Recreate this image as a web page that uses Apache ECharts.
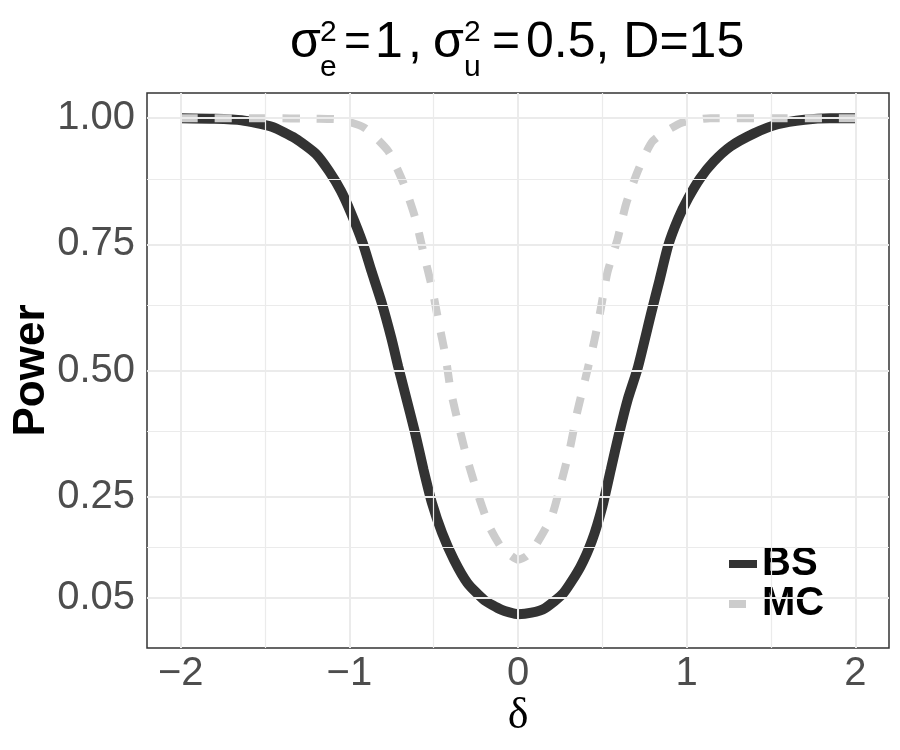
<!DOCTYPE html>
<html>
<head>
<meta charset="utf-8">
<script src="https://cdn.jsdelivr.net/npm/echarts@6/dist/echarts.min.js"></script>
<style>
  html, body { margin: 0; padding: 0; background: #fff; }
  #chart { width: 900px; height: 750px; }
</style>
</head>
<body>
<div id="chart"></div>
<script>
// values
var deltaBS = [-2.00, -1.80, -1.64, -1.46, -1.32, -1.20, -1.12, -1.05, -0.99, -0.92, -0.87, -0.81, -0.75, -0.71,
               -0.67, -0.61, -0.56, -0.51, -0.45, -0.38, -0.30, -0.20, -0.10, 0.00, 0.08, 0.16, 0.27, 0.37,
               0.44, 0.50, 0.55, 0.60, 0.65, 0.71, 0.79, 0.84, 0.89, 0.95, 1.01, 1.08, 1.16, 1.26, 1.40,
               1.54, 1.70, 1.85, 2.00];
var powerBS = [1.000, 0.999, 0.996, 0.983, 0.960, 0.930, 0.895, 0.856, 0.812, 0.752, 0.698, 0.636, 0.563, 0.507,
               0.455, 0.376, 0.303, 0.237, 0.178, 0.125, 0.079, 0.045, 0.026, 0.017, 0.020, 0.029, 0.059, 0.111,
               0.164, 0.230, 0.303, 0.376, 0.442, 0.505, 0.614, 0.680, 0.747, 0.801, 0.842, 0.881, 0.914, 0.944, 0.970,
               0.988, 0.997, 1.000, 1.000];

var deltaMC = [-2.00, -1.50, -1.20, -1.05, -0.91, -0.77, -0.68, -0.61, -0.56, -0.51, -0.47, -0.43, -0.40, -0.35,
               -0.30, -0.24, -0.17, -0.10, -0.05, 0.00, 0.05, 0.10, 0.20, 0.26, 0.31, 0.35, 0.40, 0.45, 0.49,
               0.53, 0.59, 0.64, 0.71, 0.80, 0.97, 1.14, 1.50, 2.00];
var powerMC = [1.000, 1.000, 0.999, 0.997, 0.981, 0.935, 0.872, 0.803, 0.733, 0.664, 0.595, 0.529, 0.462, 0.389,
               0.323, 0.257, 0.191, 0.150, 0.135, 0.125, 0.132, 0.151, 0.211, 0.283, 0.349, 0.416, 0.485, 0.555, 0.621,
               0.694, 0.760, 0.829, 0.895, 0.955, 0.991, 1.000, 1.000, 1.000];

var xTicks = [-2, -1, 0, 1, 2];
var xMinor = [-1.5, -0.5, 0.5, 1.5];
var yTicks = [0.05, 0.25, 0.50, 0.75, 1.00];
var yMinor = [0.15, 0.375, 0.625, 0.875];

var myChart = echarts.init(document.getElementById('chart'));

function pairs(xs, ys) {
    return xs.map(function (x, i) { return [x, ys[i]]; });
}

// background grid drawn as mark lines
var gridLines = [];
xTicks.forEach(function (v) { gridLines.push({ xAxis: v, lineStyle: { width: 2 } }); });
xMinor.forEach(function (v) { gridLines.push({ xAxis: v, lineStyle: { width: 1.2 } }); });
yTicks.forEach(function (v) { gridLines.push({ yAxis: v, lineStyle: { width: 2 } }); });
yMinor.forEach(function (v) { gridLines.push({ yAxis: v, lineStyle: { width: 1.2 } }); });

var base = 'Liberation Sans, Arial, sans-serif';

function titlePart(txt, x, y, size) {
    return { type: 'text', x: x, y: y, style: { text: txt, font: size + 'px ' + base, fill: '#000', verticalAlign: 'middle' } };
}

var option = {
    animation: false,
    backgroundColor: '#fff',
    textStyle: { fontFamily: base },
    grid: {
        left: 147, right: 11, top: 93, bottom: 102,
        containLabel: false,
        outerBoundsMode: 'none',
        show: true,
        backgroundColor: '#fff',
        borderColor: '#333',
        borderWidth: 1.5
    },
    graphic: [
        titlePart('σ', 290, 43, 50),
        titlePart('2', 320, 33, 30),
        titlePart('e', 320, 68, 30),
        titlePart('=', 344, 43, 46),
        titlePart('1', 375, 43, 50),
        titlePart(',', 408, 43, 50),
        titlePart('σ', 433, 43, 50),
        titlePart('2', 464, 33, 30),
        titlePart('u', 464, 68, 30),
        titlePart('=', 492, 43, 48),
        titlePart('0.5, D=15', 526, 43, 50)
    ],
    legend: {
        data: ['BS', 'MC'],
        orient: 'vertical',
        left: 709,
        top: 535,
        padding: [9, 11, 10, 16],
        backgroundColor: '#fff',
        itemGap: 0,
        itemWidth: 28,
        itemHeight: 14,
        itemStyle: { color: 'rgba(0,0,0,0)', borderWidth: 0 },
        lineStyle: { width: 8, cap: 'butt' },
        textStyle: { fontSize: 40, fontWeight: 'bold', color: '#000', lineHeight: 38, fontFamily: base }
    },
    xAxis: {
        type: 'value',
        min: -2.2,
        max: 2.2,
        name: 'δ',
        nameLocation: 'middle',
        nameGap: 46,
        nameMoveOverlap: false,
        nameTextStyle: { fontSize: 44, color: '#000', fontFamily: 'Liberation Serif, serif' },
        axisLine: { show: false },
        splitLine: { show: false },
        axisTick: { show: true, customValues: xTicks, length: 5, lineStyle: { color: '#333', width: 1.5 } },
        axisLabel: {
            customValues: xTicks,
            fontSize: 40,
            color: '#4d4d4d',
            margin: 6,
            formatter: function (v) { return v < 0 ? '\u2212' + Math.abs(v) : String(v); }
        }
    },
    yAxis: {
        type: 'value',
        min: -0.05,
        max: 1.05,
        name: 'Power',
        nameLocation: 'middle',
        nameGap: 93,
        nameMoveOverlap: false,
        nameTextStyle: { fontSize: 44, fontWeight: 'bold', color: '#000' },
        axisLine: { show: false },
        splitLine: { show: false },
        axisTick: { show: true, customValues: yTicks, length: 5, lineStyle: { color: '#333', width: 1.5 } },
        axisLabel: {
            customValues: yTicks,
            fontSize: 40,
            color: '#4d4d4d',
            margin: 12,
            formatter: function (v) { return v.toFixed(2); }
        }
    },
    series: [{
        name: 'grid',
        type: 'line',
        z: 1,
        data: [[0, 0.5]],
        symbol: 'none',
        lineStyle: { opacity: 0 },
        silent: true,
        markLine: {
            silent: true,
            symbol: ['none', 'none'],
            label: { show: false },
            lineStyle: { color: '#ebebeb', type: 'solid' },
            data: gridLines
        }
    }, {
        name: 'BS',
        type: 'line',
        z: 3,
        data: pairs(deltaBS, powerBS),
        symbol: 'none',
        smooth: 0.2,
        color: '#333333',
        lineStyle: { color: '#333333', width: 10 }
    }, {
        name: 'MC',
        type: 'line',
        z: 4,
        data: pairs(deltaMC, powerMC),
        symbol: 'none',
        smooth: 0.2,
        color: '#cccccc',
        lineStyle: { color: '#cccccc', width: 8, type: [17, 17] }
    }]
};

myChart.setOption(option);
</script>
</body>
</html>
